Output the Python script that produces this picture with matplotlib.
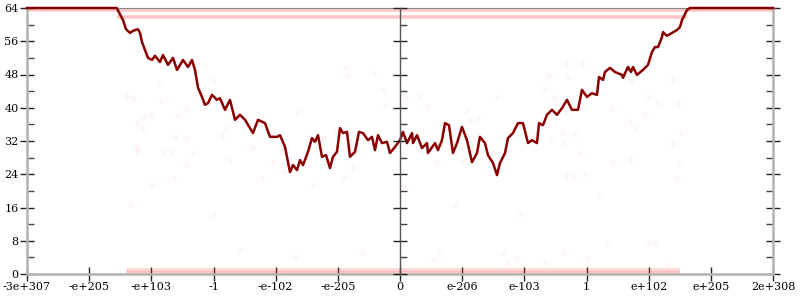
import matplotlib
matplotlib.use("Agg")
import matplotlib.pyplot as plt
from matplotlib.ticker import MultipleLocator

# x positions are in tick-slot units: slot 0 = -3e+307 ... slot 12 = 2e+308
tick_labels = ["-3e+307", "-e+205", "-e+103", "-1", "-e-102", "-e-205", "0",
               "e-206", "e-103", "1", "e+102", "e+205", "2e+308"]

line_x = [0.0, 1.335, 1.443, 1.544, 1.592, 1.657, 1.705, 1.785, 1.818, 1.850,
          1.898, 1.946, 2.011, 2.059, 2.139, 2.188, 2.268, 2.348, 2.413, 2.509,
          2.590, 2.654, 2.702, 2.751, 2.815, 2.863, 2.911, 2.976, 3.056, 3.104,
          3.185, 3.265, 3.346, 3.426, 3.507, 3.635, 3.716, 3.828, 3.909, 4.021,
          4.070, 4.150, 4.230, 4.279, 4.343, 4.391, 4.440, 4.520, 4.584, 4.632,
          4.681, 4.745, 4.810, 4.874, 4.922, 4.986, 5.035, 5.083, 5.147, 5.195,
          5.276, 5.340, 5.405, 5.485, 5.549, 5.598, 5.646, 5.710, 5.791, 5.839,
          5.920, 6.000, 6.048, 6.113, 6.193, 6.209, 6.273, 6.354, 6.434, 6.450,
          6.563, 6.611, 6.675, 6.724, 6.788, 6.852, 6.917, 6.997, 7.077, 7.158,
          7.238, 7.286, 7.367, 7.415, 7.496, 7.560, 7.608, 7.689, 7.737, 7.817,
          7.898, 7.978, 8.059, 8.123, 8.203, 8.236, 8.300, 8.364, 8.445, 8.525,
          8.606, 8.686, 8.766, 8.863, 8.927, 9.008, 9.088, 9.168, 9.201, 9.265,
          9.297, 9.378, 9.458, 9.571, 9.587, 9.667, 9.715, 9.748, 9.812, 9.908,
          9.989, 10.053, 10.101, 10.150, 10.214, 10.230, 10.294, 10.375, 10.455,
          10.503, 10.536, 10.616, 10.664, 12.0]
line_y = [64, 64, 64, 61.1, 58.9, 58.0, 58.5, 58.9, 58.0, 55.8,
          53.9, 52.0, 51.5, 52.5, 51.0, 52.7, 50.3, 52.0, 49.1, 51.5,
          49.8, 51.5, 49.1, 44.8, 42.6, 40.7, 41.1, 43.1, 41.9, 42.3,
          39.5, 41.9, 37.1, 38.3, 37.1, 33.9, 37.1, 36.3, 33.0, 33.0,
          33.4, 30.6, 24.5, 26.2, 25.0, 27.4, 26.2, 29.4, 32.7, 31.8,
          33.4, 28.2, 28.6, 25.5, 28.2, 29.4, 35.1, 33.9, 34.2, 28.2,
          29.4, 34.2, 33.9, 32.2, 33.0, 29.8, 33.4, 31.5, 31.8, 29.1,
          30.6, 32.2, 34.2, 31.5, 33.9, 31.5, 33.4, 30.3, 31.5, 29.1,
          31.5, 29.8, 32.2, 36.3, 35.8, 29.1, 31.5, 35.4, 32.2, 26.9,
          29.1, 33.0, 31.5, 28.6, 26.7, 23.8, 26.7, 29.1, 32.7, 33.9,
          36.3, 36.3, 31.5, 32.2, 31.5, 36.3, 35.8, 38.3, 39.5, 38.3,
          39.9, 41.9, 39.5, 39.5, 44.3, 42.6, 43.5, 43.1, 47.4, 46.7,
          48.6, 49.6, 48.6, 47.9, 47.2, 49.8, 48.6, 49.8, 47.9, 49.1,
          50.3, 53.4, 54.6, 54.6, 57.0, 58.2, 57.3, 58.0, 58.7,
          59.4, 61.1, 63.5, 64, 64]

# dense bands of samples (value, start slot, end slot)
band_y = [63.5, 61.9, 1.0, 0.2]
band_x0 = [0.0, 1.45, 1.60, 1.60]
band_x1 = [12.0, 10.62, 10.50, 10.50]
band_alpha = [0.26, 0.28, 0.2, 0.26]

# sparse faint samples
dot_x = [1.59, 1.72, 2.16, 2.14, 1.77, 1.87, 2.00, 1.87, 2.41, 2.56, 2.38, 2.56,
         1.75, 1.79, 2.19, 2.32, 2.67, 2.56, 2.36, 2.99, 3.14, 3.20, 3.25, 3.64,
         3.78, 3.96, 4.12, 4.36, 4.60, 4.76, 4.97, 5.10, 5.24, 5.12, 5.16, 5.58,
         5.73, 5.76, 6.05, 6.08, 6.31, 6.45, 6.59, 7.01, 7.08, 7.13, 7.25, 7.53,
         7.56, 8.32, 8.40, 8.67, 8.93, 8.70, 8.49, 8.53, 8.69, 8.61, 8.81, 8.62,
         8.44, 8.90, 9.39, 9.68, 9.80, 9.99, 10.15, 10.47, 9.94, 9.43, 9.70,
         8.80, 8.98, 8.67, 10.39, 10.52, 10.39, 10.50, 10.46, 9.72,
         4.31, 5.39, 6.53, 6.64, 7.66, 7.74, 7.88, 8.62, 9.01, 9.35, 10.10,
         9.97, 8.33, 3.43, 10.29, 2.01, 1.66, 2.99, 6.88, 7.93, 9.22]
dot_y = [42.8, 42.1, 41.6, 46.0, 36.6, 37.8, 38.3, 35.1, 38.0, 39.7, 33.0, 32.7,
         30.3, 29.4, 29.4, 29.4, 29.1, 26.2, 23.1, 46.7, 33.4, 35.1, 27.4, 30.6,
         23.1, 26.9, 24.8, 39.0, 21.4, 32.7, 34.4, 23.1, 25.5, 49.6, 47.6, 48.4,
         44.3, 40.7, 21.2, 42.6, 42.8, 40.4, 26.9, 27.4, 39.2, 36.8, 37.5, 29.4,
         42.6, 44.8, 47.6, 50.8, 50.8, 47.4, 42.6, 40.7, 39.0, 33.9, 33.4, 31.5,
         32.2, 29.1, 39.7, 36.8, 35.1, 42.8, 41.1, 41.1, 38.5, 26.9, 27.4,
         23.3, 24.1, 23.6, 46.7, 33.9, 31.5, 26.5, 23.1, 46.4,
         4.1, 5.1, 3.6, 5.3, 5.1, 2.6, 3.8, 5.1, 3.8, 7.2, 7.7,
         7.5, 2.9, 5.8, 2.2, 21.4, 16.6, 14.2, 16.6, 14.2, 19.0]

plt.rcParams['font.family'] = ['DejaVu Serif']

fig = plt.figure(figsize=(8, 3), dpi=100)
L, B, R, T = 27 / 800, 26 / 300, 773 / 800, 292 / 300
ax = fig.add_axes([L, B, R - L, T - B])

ax.scatter(dot_x, dot_y, s=20, color='red', alpha=0.035, linewidths=0, zorder=1)
for yv, x0, x1, a in zip(band_y, band_x0, band_x1, band_alpha):
    ax.hlines(yv, x0, x1, color='#ff3333', alpha=a, lw=2.6, zorder=2)
ax.plot(line_x, line_y, color='#8b0000', lw=1.8, zorder=4, clip_on=False)

ax.set_xlim(0, 12)
ax.set_ylim(0, 64)
ax.set_xticks(range(13))
ax.set_xticklabels(tick_labels)
ax.yaxis.set_major_locator(MultipleLocator(8))
ax.yaxis.set_minor_locator(MultipleLocator(4))

for side in ('left', 'right', 'bottom'):
    ax.spines[side].set_color('#b3b3b3')
    ax.spines[side].set_linewidth(1.8)
ax.spines['top'].set_color('#888888')
ax.spines['top'].set_linewidth(0.8)

ax.tick_params(axis='both', which='major', direction='inout', length=10,
               width=1, color='#222222', labelsize=8, pad=1)
ax.tick_params(axis='y', which='minor', direction='in', length=5, width=1,
               color='#444444')
ax.tick_params(axis='y', which='both', right=True)

# vertical axis through zero
axc = fig.add_axes([0.5, B, 0.1, T - B])
axc.patch.set_visible(False)
for side in ('top', 'right', 'bottom'):
    axc.spines[side].set_visible(False)
axc.spines['left'].set_color('#555555')
axc.spines['left'].set_linewidth(1)
axc.set_ylim(0, 64)
axc.set_xticks([])
axc.yaxis.set_major_locator(MultipleLocator(8))
axc.yaxis.set_minor_locator(MultipleLocator(4))
axc.tick_params(axis='y', which='major', direction='inout', length=10,
                width=1, color='#222222', labelleft=False)
axc.tick_params(axis='y', which='minor', direction='in', length=5, width=1,
                color='#444444')

fig.savefig('out.png', dpi=100)
